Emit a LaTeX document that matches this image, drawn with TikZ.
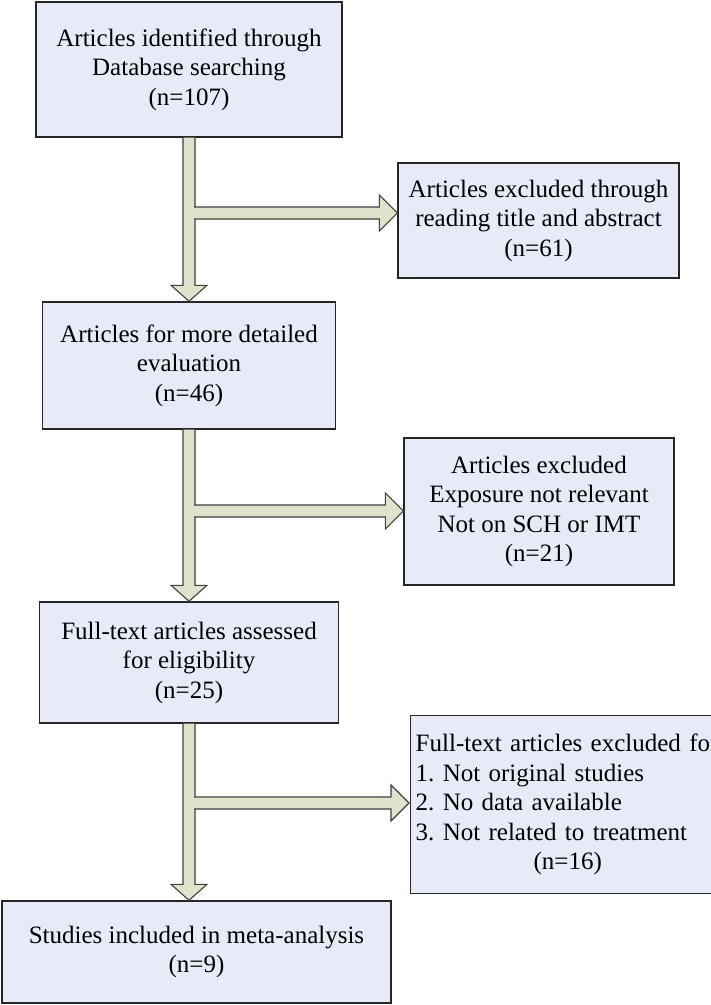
\documentclass[tikz,border=0pt]{standalone}
\usepackage{fontspec}
\setmainfont{Liberation Serif}
\usetikzlibrary{calc}
\definecolor{boxfill}{RGB}{230,235,247}
\definecolor{flowfill}{RGB}{223,227,203}
\frenchspacing
\tikzset{
  box/.style={draw=black!85, line width=1.4pt, fill=boxfill, inner sep=0pt, align=center,
    font=\fontsize{25}{29.5}\selectfont},
  flow/.style={draw=black!75, line width=1.1pt, fill=flowfill, line join=miter}
}
\begin{document}
\begin{tikzpicture}[x=1pt,y=-1pt]
			\useasboundingbox (0,0) rectangle (711,1005);
			\node[box, minimum width=306, minimum height=135] (b1) at (189,69.5) {Articles identified through\\Database searching\\(n=107)};
			\node[box, minimum width=281, minimum height=115] (b2) at (538.5,220.5) {Articles excluded through\\reading title and abstract\\(n=61)};
			\node[box, minimum width=293, minimum height=127] (b3) at (189,365.5) {Articles for more detailed\\evaluation\\(n=46)};
			\node[box, minimum width=270, minimum height=147] (b4) at (539,511.5) {Articles excluded\\Exposure not relevant\\Not on SCH or IMT\\(n=21)};
			\node[box, minimum width=299, minimum height=121] (b5) at (189,662.5) {Full-text articles assessed\\for eligibility\\(n=25)};
			\node[box, anchor=north west, align=left, text width=330, inner xsep=5pt, minimum height=178] (b6) at (410,715) {Full-text articles excluded for\\1. Not original studies\\2. No data available\\3. Not related to treatment\\\makebox[304pt]{(n=16)}};
			\node[box, minimum width=389, minimum height=102] (b7) at (196.5,952) {Studies included in meta-analysis\\(n=9)};
			\coordinate (j1) at (195,213);
			\coordinate (j2) at (195,511);
			\coordinate (j3) at (195,803);
			\draw[flow] ($(b1.south)+(-6,0)$) -- ($(b3.north)+(-6,-16)$) -- ($(b3.north)+(-18,-16)$) -- (b3.north) -- ($(b3.north)+(18,-16)$) -- ($(b3.north)+(6,-16)$) -- ($(b1.south)+(6,0)$);
			\draw[flow] ($(b3.south)+(-6,0)$) -- ($(b5.north)+(-6,-16)$) -- ($(b5.north)+(-18,-16)$) -- (b5.north) -- ($(b5.north)+(18,-16)$) -- ($(b5.north)+(6,-16)$) -- ($(b3.south)+(6,0)$);
			\draw[flow] ($(b5.south)+(-6,0)$) -- ($(b5.south |- b7.north)+(-6,-16)$) -- ($(b5.south |- b7.north)+(-18,-16)$) -- (b5.south |- b7.north) -- ($(b5.south |- b7.north)+(18,-16)$) -- ($(b5.south |- b7.north)+(6,-16)$) -- ($(b5.south)+(6,0)$);
			\draw[flow] ($(j1)+(-1,-6)$) -- ($(j1 -| b2.west)+(-18,-6)$) -- ($(j1 -| b2.west)+(-18,-18)$) -- (j1 -| b2.west) -- ($(j1 -| b2.west)+(-18,18)$) -- ($(j1 -| b2.west)+(-18,6)$) -- ($(j1)+(-1,6)$);
			\draw[flow] ($(j2)+(-1,-6)$) -- ($(j2 -| b4.west)+(-18,-6)$) -- ($(j2 -| b4.west)+(-18,-18)$) -- (j2 -| b4.west) -- ($(j2 -| b4.west)+(-18,18)$) -- ($(j2 -| b4.west)+(-18,6)$) -- ($(j2)+(-1,6)$);
			\draw[flow] ($(j3)+(-1,-6)$) -- ($(j3 -| b6.west)+(-19,-6)$) -- ($(j3 -| b6.west)+(-19,-18)$) -- ($(j3 -| b6.west)+(-1,0)$) -- ($(j3 -| b6.west)+(-19,18)$) -- ($(j3 -| b6.west)+(-19,6)$) -- ($(j3)+(-1,6)$);
		\end{tikzpicture}
\end{document}
